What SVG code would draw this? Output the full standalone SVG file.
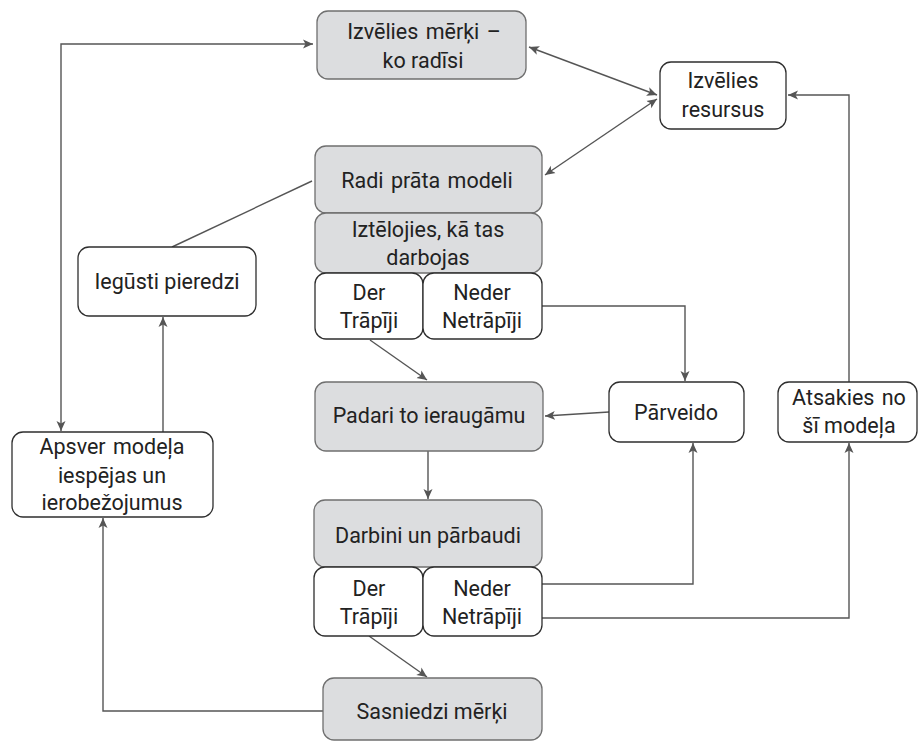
<svg xmlns="http://www.w3.org/2000/svg" width="918" height="742" viewBox="0 0 918 742">
<style>
.g{fill:#dcdddf;stroke:#6f6f6f;stroke-width:1.3}
.w{fill:#ffffff;stroke:#2e2e2e;stroke-width:1.3}
text{font-family:Roboto,"Liberation Sans",sans-serif;font-size:21.5px;fill:#222;text-anchor:middle}
.ws{word-spacing:2px}
.c{fill:none;stroke:#555;stroke-width:1.4}
</style>
<defs>
<marker id="ae" viewBox="0 0 10 10" refX="10" refY="5" markerWidth="10" markerHeight="10" markerUnits="userSpaceOnUse" orient="auto">
<path d="M0,0.5 L10,5 L0,9.5 L2.5,5 Z" fill="#555"/>
</marker>
<marker id="as" viewBox="0 0 10 10" refX="0" refY="5" markerWidth="10" markerHeight="10" markerUnits="userSpaceOnUse" orient="auto">
<path d="M10,0.5 L0,5 L10,9.5 L7.5,5 Z" fill="#555"/>
</marker>
</defs>
<rect width="918" height="742" fill="#fff"/>
<g id="connectors">
<path class="c" d="M61,431 V44 H313" marker-start="url(#as)" marker-end="url(#ae)"/>
<path class="c" d="M529,47 L657,95" marker-start="url(#as)" marker-end="url(#ae)"/>
<path class="c" d="M545,175 L657,99" marker-start="url(#as)" marker-end="url(#ae)"/>
<path class="c" d="M312,181 L172,247"/>
<path class="c" d="M163,432 V317" marker-end="url(#ae)"/>
<path class="c" d="M370,340 L427,380" marker-end="url(#ae)"/>
<path class="c" d="M542,306 H685 V381" marker-end="url(#ae)"/>
<path class="c" d="M609,412 L545,416" marker-end="url(#ae)"/>
<path class="c" d="M428,451 V499" marker-end="url(#ae)"/>
<path class="c" d="M542,584 H693 V443" marker-end="url(#ae)"/>
<path class="c" d="M542,618 H849 V443" marker-end="url(#ae)"/>
<path class="c" d="M849,382 V95 H788" marker-end="url(#ae)"/>
<path class="c" d="M369,636 L427,677" marker-end="url(#ae)"/>
<path class="c" d="M323,711 H103 V518" marker-end="url(#ae)"/>
</g>
<g id="n-merki"><rect class="g" x="317" y="11" width="209" height="68" rx="11"/><text class="ws" x="424" y="39">Izvēlies mērķi –</text><text x="423" y="68">ko radīsi</text></g>
<g id="n-resursi"><rect class="w" x="660" y="62" width="126" height="67" rx="11"/><text x="723" y="88">Izvēlies</text><text x="723" y="117">resursus</text></g>
<g id="n-radi"><rect class="g" x="315" y="146" width="227" height="67" rx="11"/><text class="ws" x="427" y="188">Radi prāta modeli</text></g>
<g id="n-iztelojies"><rect class="g" x="315" y="213" width="227" height="60" rx="11"/><text x="428" y="237">Iztēlojies, kā tas</text><text x="428" y="265">darbojas</text></g>
<g id="n-der1"><rect class="w" x="315" y="273" width="108" height="66" rx="11"/><text x="369" y="300">Der</text><text x="369" y="328">Trāpīji</text></g>
<g id="n-neder1"><rect class="w" x="423" y="273" width="119" height="66" rx="11"/><text x="482" y="300">Neder</text><text x="482" y="328">Netrāpīji</text></g>
<g id="n-iegusti"><rect class="w" x="78" y="247" width="178" height="69" rx="11"/><text x="167" y="289">Iegūsti pieredzi</text></g>
<g id="n-apsver"><rect class="w" x="12" y="432" width="201" height="85" rx="11"/><text class="ws" x="112" y="454">Apsver modeļa</text><text x="112" y="483">iespējas un</text><text x="112" y="510">ierobežojumus</text></g>
<g id="n-padari"><rect class="g" x="315" y="382" width="228" height="69" rx="11"/><text x="429" y="423">Padari to ieraugāmu</text></g>
<g id="n-parveido"><rect class="w" x="609" y="382" width="135" height="60" rx="11"/><text x="676" y="420">Pārveido</text></g>
<g id="n-atsakies"><rect class="w" x="778" y="382" width="139" height="60" rx="11"/><text class="ws" x="849" y="405">Atsakies no</text><text x="849" y="433">šī modeļa</text></g>
<g id="n-darbini"><rect class="g" x="314" y="500" width="228" height="67" rx="11"/><text x="428" y="543">Darbini un pārbaudi</text></g>
<g id="n-der2"><rect class="w" x="314" y="567" width="109" height="69" rx="11"/><text x="369" y="596">Der</text><text x="369" y="624">Trāpīji</text></g>
<g id="n-neder2"><rect class="w" x="423" y="567" width="119" height="69" rx="11"/><text x="482" y="596">Neder</text><text x="482" y="624">Netrāpīji</text></g>
<g id="n-sasniedzi"><rect class="g" x="323" y="678" width="219" height="62" rx="11"/><text x="432" y="719">Sasniedzi mērķi</text></g>
</svg>
